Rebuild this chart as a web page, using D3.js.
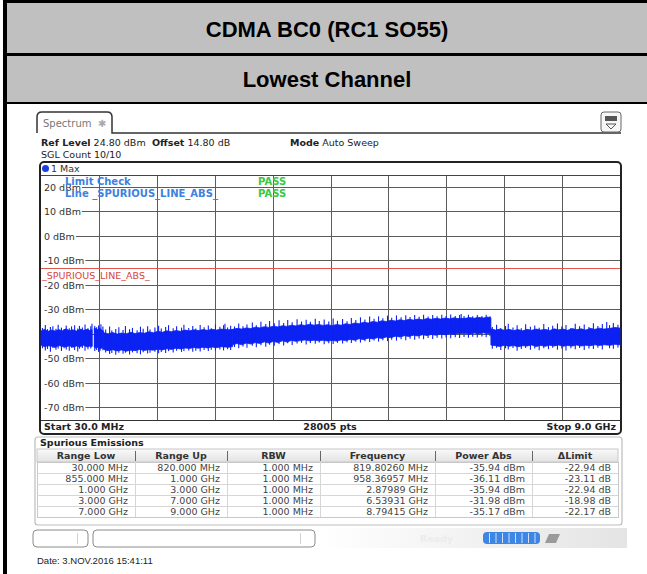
<!DOCTYPE html>
<html>
<head>
<meta charset="utf-8">
<script src="https://cdn.jsdelivr.net/npm/d3@7"></script>
<style>
  html, body { margin: 0; padding: 0; background: #fff; }
  svg { display: block; }
</style>
</head>
<body>
<svg id="chart" width="647" height="574"></svg>
<script>
// ---- report header ----
const titleLines = ["CDMA BC0 (RC1 SO55)", "Lowest Channel"];

// ---- analyzer settings ----
const refLevel = 24.80;          // dBm, top of the display
const offsetDb = 14.80;
const sweepMode = "Auto Sweep";
const sglCount = "10/10";
const startMHz = 30;
const stopMHz = 9000;
const sweepPoints = 28005;
const yTicks = [20, 10, 0, -10, -20, -30, -40, -50, -60, -70];
const limitLevel = -13;          // dBm
const limitName = "_SPURIOUS_LINE_ABS_";

// ---- spurious emissions table ----
const rangeLow  = ["30.000 MHz", "855.000 MHz", "1.000 GHz", "3.000 GHz", "7.000 GHz"];
const rangeUp   = ["820.000 MHz", "1.000 GHz", "3.000 GHz", "7.000 GHz", "9.000 GHz"];
const rbwValues = ["1.000 MHz", "1.000 MHz", "1.000 MHz", "1.000 MHz", "1.000 MHz"];
const peakFreqMHz = [819.80260, 958.36957, 2879.89, 6539.31, 8794.15];
const peakPower   = [-35.94, -36.11, -35.94, -31.98, -35.17];

// ---- max-hold trace, dense core per range: [MHz, upper dBm, lower dBm] ----
const core1 = [
  [30,-38.9,-44.6],[85,-38.2,-45.3],[140,-39.0,-44.9],[195,-38.5,-45.1],[250,-38.9,-45.6],
  [305,-38.3,-44.8],[360,-38.8,-45.2],[415,-38.0,-45.4],[470,-38.7,-44.9],[525,-38.4,-45.5],
  [580,-38.9,-45.0],[635,-38.1,-45.3],[690,-38.6,-44.7],[745,-38.2,-45.4],[790,-38.7,-45.0],
  [820,-38.3,-45.2]
];
const core2 = [
  [855,-37.6,-45.4],[880,-38.0,-45.9],[905,-38.3,-45.6],[930,-37.9,-46.2],[980,-38.6,-45.8],
  [1000,-38.9,-46.0]
];
const core3 = [
  [1000,-39.6,-46.4],[1070,-40.0,-46.9],[1140,-39.5,-46.5],[1210,-40.1,-47.0],[1280,-39.7,-46.6],
  [1350,-40.0,-47.1],[1420,-39.4,-46.7],[1490,-39.9,-46.9],[1560,-39.5,-46.4],[1630,-39.8,-46.8],
  [1700,-39.2,-46.5],[1770,-39.6,-46.7],[1840,-39.0,-46.3],[1910,-39.4,-46.6],[1980,-38.8,-46.1],
  [2050,-39.2,-46.4],[2120,-38.7,-45.9],[2190,-39.0,-46.2],[2260,-38.5,-45.8],[2330,-38.8,-46.0],
  [2400,-38.4,-45.6],[2470,-38.7,-45.9],[2540,-38.3,-45.5],[2610,-38.6,-45.8],[2680,-38.2,-45.4],
  [2750,-38.5,-45.7],[2820,-38.1,-45.3],[2940,-38.4,-45.5],[3000,-38.2,-45.2]
];
const core4 = [
  [3000,-38.2,-44.4],[3070,-37.8,-44.0],[3140,-38.1,-44.5],[3210,-37.6,-43.8],[3280,-37.9,-44.2],
  [3350,-37.3,-43.6],[3420,-37.6,-44.0],[3490,-37.1,-43.3],[3560,-37.4,-43.8],[3630,-36.9,-43.1],
  [3700,-37.2,-43.6],[3770,-36.7,-42.9],[3840,-37.0,-43.4],[3910,-36.5,-42.7],[3980,-36.8,-43.1],
  [4050,-36.3,-42.8],[4120,-36.6,-42.5],[4190,-36.1,-42.9],[4260,-36.5,-42.6],[4330,-36.2,-42.9],
  [4400,-36.6,-42.6],[4470,-36.3,-43.0],[4540,-36.7,-42.7],[4610,-36.2,-43.0],[4680,-36.5,-42.5],
  [4750,-35.9,-42.8],[4820,-36.2,-42.3],[4890,-35.6,-42.6],[4960,-35.9,-42.0],[5030,-35.3,-42.4],
  [5100,-35.6,-41.8],[5170,-35.0,-42.1],[5240,-35.3,-41.6],[5310,-34.7,-41.9],[5380,-35.0,-41.3],
  [5450,-34.5,-41.6],[5520,-34.8,-41.0],[5590,-34.3,-41.3],[5660,-34.6,-40.8],[5730,-34.1,-41.1],
  [5800,-34.4,-40.6],[5870,-34.0,-40.9],[5940,-34.3,-40.4],[6010,-33.8,-40.7],[6080,-34.1,-40.3],
  [6150,-33.7,-40.6],[6220,-34.0,-40.1],[6290,-33.6,-40.4],[6360,-33.9,-40.0],[6430,-33.5,-40.3],
  [6490,-33.8,-39.9],[6600,-33.7,-39.8],[6670,-33.4,-40.2],[6740,-33.7,-39.7],[6810,-33.3,-40.1],
  [6880,-33.6,-39.6],[6950,-33.2,-40.0],[7000,-33.5,-39.8]
];
const core5 = [
  [7000,-38.0,-44.6],[7070,-38.5,-44.9],[7140,-38.1,-45.2],[7210,-38.6,-44.7],[7280,-38.2,-45.1],
  [7350,-38.7,-44.8],[7420,-38.3,-45.3],[7490,-38.8,-44.9],[7560,-38.2,-45.0],[7630,-38.6,-44.6],
  [7700,-38.1,-45.2],[7770,-38.5,-44.8],[7840,-38.2,-45.1],[7910,-38.7,-44.7],[7980,-38.0,-45.0],
  [8050,-38.4,-44.6],[8120,-38.1,-45.1],[8190,-38.6,-44.8],[8260,-37.9,-45.0],[8330,-38.3,-44.6],
  [8400,-38.0,-45.0],[8470,-38.5,-44.7],[8540,-37.8,-44.9],[8610,-38.2,-44.5],[8680,-37.7,-44.8],
  [8750,-38.1,-44.5],[8850,-37.8,-44.7],[8920,-37.4,-44.3],[9000,-37.7,-44.5]
];

// ---- individual noise excursions beyond the core: [MHz, top dBm, bottom dBm] ----
const spikes1 = [
  [52,-37.6,-45.9],[97,-36.4,-46.8],[131,-38.1,-46.2],[176,-37.2,-47.3],[214,-36.9,-45.8],
  [262,-38.0,-46.5],[296,-36.3,-46.0],[347,-37.5,-47.0],[388,-38.2,-45.9],[421,-36.6,-46.4],
  [468,-37.8,-46.9],[503,-37.0,-45.7],[551,-36.5,-46.6],[599,-37.9,-47.2],[626,-36.8,-46.1],
  [671,-37.4,-45.8],[712,-36.2,-46.9],[758,-37.7,-46.3],[801,-36.9,-46.0]
];
const spikes2 = [[863,-36.8,-47.0],[892,-37.3,-46.6],[921,-36.6,-47.4],[944,-37.6,-46.9],[989,-37.0,-46.7]];
const spikes3 = [
  [1032,-38.3,-47.6],[1093,-37.0,-48.3],[1127,-38.7,-47.9],[1188,-38.1,-48.6],[1236,-37.3,-47.7],
  [1301,-38.5,-48.2],[1338,-36.8,-47.8],[1402,-38.2,-48.5],[1447,-37.6,-47.6],[1519,-38.6,-48.0],
  [1571,-37.1,-48.4],[1613,-38.0,-47.5],[1682,-36.9,-48.1],[1719,-38.3,-47.8],[1795,-37.4,-47.3],
  [1852,-36.7,-48.0],[1893,-37.9,-47.4],[1961,-37.2,-47.9],[2006,-36.5,-47.1],[2078,-37.8,-47.6],
  [2131,-36.9,-46.9],[2207,-37.5,-47.4],[2244,-36.3,-47.0],[2319,-37.6,-46.8],[2381,-36.8,-47.3],
  [2428,-37.9,-46.9],[2496,-36.4,-47.2],[2557,-37.3,-46.6],[2622,-36.6,-47.0],[2668,-37.7,-46.5],
  [2733,-36.2,-46.9],[2801,-37.1,-46.4],[2858,-36.5,-46.8],[2921,-37.4,-46.3],[2968,-36.7,-46.6]
];
const spikes4 = [
  [3028,-37.0,-45.4],[3093,-35.8,-45.9],[3159,-36.9,-45.2],[3221,-36.2,-45.7],[3304,-35.4,-44.9],
  [3366,-36.5,-45.5],[3437,-35.1,-44.7],[3512,-36.0,-45.3],[3571,-34.8,-44.5],[3644,-35.7,-44.9],
  [3718,-34.5,-44.2],[3789,-35.6,-44.8],[3852,-34.4,-43.9],[3921,-35.3,-44.6],[3997,-34.1,-44.0],
  [4066,-35.0,-43.7],[4138,-34.3,-44.4],[4204,-35.1,-43.8],[4279,-33.9,-44.1],[4341,-34.8,-43.6],
  [4417,-34.2,-44.3],[4488,-35.0,-43.9],[4556,-33.8,-44.2],[4623,-34.7,-43.7],[4702,-34.0,-44.0],
  [4771,-34.9,-43.5],[4838,-33.6,-43.8],[4907,-34.4,-43.3],[4979,-33.3,-43.6],[5048,-34.2,-43.1],
  [5121,-33.0,-43.4],[5190,-33.9,-42.8],[5259,-32.9,-43.2],[5326,-33.7,-42.6],[5398,-32.6,-43.0],
  [5463,-33.5,-42.4],[5537,-32.5,-42.8],[5609,-33.3,-42.2],[5681,-32.4,-42.6],[5748,-33.2,-42.0],
  [5819,-32.3,-42.4],[5888,-33.1,-41.9],[5957,-32.2,-42.2],[6027,-33.0,-41.7],[6098,-32.3,-42.1],
  [6167,-32.9,-41.6],[6239,-32.2,-41.9],[6306,-32.8,-41.5],[6377,-32.1,-41.8],[6448,-32.7,-41.4],
  [6515,-32.3,-41.7],[6584,-32.8,-41.3],[6652,-32.2,-41.6],[6718,-32.9,-41.2],[6789,-32.3,-41.5],
  [6861,-32.7,-41.1],[6927,-32.2,-41.4],[6986,-32.9,-41.0]
];
const spikes5 = [
  [7022,-37.2,-46.1],[7088,-36.3,-45.7],[7153,-37.6,-46.6],[7227,-36.8,-45.9],[7269,-35.9,-46.4],
  [7342,-37.4,-45.8],[7406,-36.5,-46.9],[7471,-37.8,-46.2],[7538,-36.1,-45.8],[7612,-37.1,-46.5],
  [7679,-36.6,-46.0],[7748,-37.5,-46.7],[7819,-36.0,-45.9],[7892,-37.3,-46.3],[7957,-36.7,-45.7],
  [8031,-35.8,-46.5],[8098,-37.0,-46.0],[8163,-36.4,-46.8],[8239,-37.6,-45.9],[8307,-35.9,-46.3],
  [8374,-36.9,-45.8],[8446,-36.2,-46.6],[8519,-37.2,-46.0],[8588,-35.7,-46.2],[8657,-36.8,-45.7],
  [8726,-36.0,-46.4],[8838,-36.5,-45.9],[8897,-35.6,-46.1],[8968,-36.3,-45.6]
];
const traceCores = [core1, core2, core3, core4, core5];
const traceSpikes = [spikes1, spikes2, spikes3, spikes4, spikes5];

// ------------------------------------------------------------------
const svg = d3.select("#chart");
const UI = "'DejaVu Sans', Verdana, sans-serif";
const TRACE = "#0b22f2";

function fmtFreq(mhz) {
  return mhz < 1000 ? mhz.toFixed(5) + " MHz" : (mhz / 1000).toFixed(5) + " GHz";
}

// ---- header band ----
svg.append("rect").attr("x", 3).attr("y", 0).attr("width", 644).attr("height", 104).attr("fill", "#000");
svg.append("rect").attr("x", 3).attr("y", 0).attr("width", 4).attr("height", 574).attr("fill", "#000");
svg.append("rect").attr("x", 7).attr("y", 3).attr("width", 640).attr("height", 50).attr("fill", "#c0c0c0");
svg.append("rect").attr("x", 7).attr("y", 56).attr("width", 640).attr("height", 46).attr("fill", "#c0c0c0");
svg.selectAll("text.title").data(titleLines).join("text")
  .attr("class", "title")
  .attr("x", 327).attr("y", (d, i) => i === 0 ? 37 : 87)
  .attr("text-anchor", "middle")
  .attr("font-family", "'Liberation Sans', Arial, sans-serif")
  .attr("font-weight", "bold").attr("font-size", 22).attr("fill", "#000")
  .text(d => d);

// ---- instrument tab ----
svg.append("path")
  .attr("d", "M37,133 V117 Q37,112 42,112 H107 Q112,112 112,117 V133 H621")
  .attr("fill", "none").attr("stroke", "#333").attr("stroke-width", 1.5);
svg.append("text").attr("x", 43).attr("y", 127)
  .attr("font-family", UI).attr("font-size", 10).attr("fill", "#777").text("Spectrum");
svg.append("text").attr("x", 98).attr("y", 127)
  .attr("font-family", UI).attr("font-size", 10).attr("fill", "#aaa").text("\u2731");

// menu icon
svg.append("rect").attr("x", 601).attr("y", 112).attr("width", 20).attr("height", 20).attr("rx", 3)
  .attr("fill", "#f6f6f6").attr("stroke", "#666").attr("stroke-width", 1);
svg.append("rect").attr("x", 605).attr("y", 116).attr("width", 12).attr("height", 5).attr("fill", "#555");
svg.append("path").attr("d", "M606,124 H616 L611,129 Z").attr("fill", "none").attr("stroke", "#555").attr("stroke-width", 1);

// settings lines
const info = svg.append("g").attr("font-family", UI).attr("font-size", 9.5).attr("fill", "#222");
function infoPair(xPos, yPos, label, value) {
  const t = info.append("text").attr("x", xPos).attr("y", yPos);
  t.append("tspan").attr("font-weight", "bold").text(label);
  t.append("tspan").text(" " + value);
}
infoPair(41, 146, "Ref Level", refLevel.toFixed(2) + " dBm");
infoPair(152, 146, "Offset", offsetDb.toFixed(2) + " dB");
infoPair(290, 146, "Mode", sweepMode);
info.append("text").attr("x", 41).attr("y", 158).text("SGL Count " + sglCount);

// ---- diagram ----
const x = d3.scaleLinear().domain([startMHz, stopMHz]).range([41, 620]);
const y = d3.scaleLinear().domain([refLevel - 100, refLevel]).range([420, 175]);

svg.append("rect").attr("x", 40).attr("y", 162).attr("width", 581).attr("height", 272).attr("rx", 4)
  .attr("fill", "#fff").attr("stroke", "#222").attr("stroke-width", 2);

svg.append("circle").attr("cx", 45.5).attr("cy", 168.5).attr("r", 3.5).attr("fill", "#1a3ee0");
svg.append("text").attr("x", 51).attr("y", 172).attr("font-family", UI).attr("font-size", 9.5)
  .attr("fill", "#333").text("1 Max");

const grid = svg.append("g").attr("stroke", "#5c5c5c").attr("stroke-width", 1);
const xGrid = d3.range(11).map(i => startMHz + i * (stopMHz - startMHz) / 10);
grid.selectAll("line.v").data(xGrid.slice(1, 10)).join("line").attr("class", "v")
  .attr("x1", d => Math.round(x(d)) + 0.5).attr("x2", d => Math.round(x(d)) + 0.5)
  .attr("y1", y(refLevel)).attr("y2", y(refLevel - 100));
grid.selectAll("line.h").data(yTicks).join("line").attr("class", "h")
  .attr("x1", x(startMHz)).attr("x2", x(stopMHz))
  .attr("y1", d => Math.round(y(d)) + 0.5).attr("y2", d => Math.round(y(d)) + 0.5);
svg.append("line").attr("x1", 41).attr("x2", 620).attr("y1", 175.5).attr("y2", 175.5)
  .attr("stroke", "#444").attr("stroke-width", 1);
svg.append("line").attr("x1", 41).attr("x2", 620).attr("y1", 420.5).attr("y2", 420.5)
  .attr("stroke", "#333").attr("stroke-width", 1.2);

// level labels with white backing
const yl = svg.append("g").attr("font-family", UI).attr("font-size", 9.5).attr("fill", "#333");
yTicks.forEach(v => {
  const g = yl.append("g");
  const bg = g.append("rect").attr("fill", "#fff");
  const t = g.append("text").attr("x", 44).attr("y", Math.round(y(v)) + 3.5).text(v + " dBm");
  const w = t.node().getComputedTextLength();
  bg.attr("x", 41).attr("y", Math.round(y(v)) - 5).attr("width", w + 4).attr("height", 11);
});

// limit line
svg.append("line").attr("x1", 41).attr("x2", 620)
  .attr("y1", Math.round(y(limitLevel)) + 0.5).attr("y2", Math.round(y(limitLevel)) + 0.5)
  .attr("stroke", "#e0574f").attr("stroke-width", 1);
svg.append("text").attr("x", 42).attr("y", Math.round(y(limitLevel)) + 11)
  .attr("font-family", UI).attr("font-size", 9.5).attr("fill", "#d9443a").text(limitName);

// trace: each range's core band, its noise needles, and its reported peak
const area = d3.area()
  .x(d => x(d[0])).y0(d => y(d[2])).y1(d => y(d[1]));
const traceG = svg.append("g");
traceCores.forEach((pts, i) => {
  traceG.append("path").datum(pts).attr("d", area)
    .attr("fill", TRACE).attr("stroke", TRACE).attr("stroke-width", 0.8);
  const near = pts.reduce((a, b) => Math.abs(b[0] - peakFreqMHz[i]) < Math.abs(a[0] - peakFreqMHz[i]) ? b : a);
  const needles = traceSpikes[i].concat([[peakFreqMHz[i], peakPower[i], near[2]]]);
  traceG.selectAll(null).data(needles).join("line")
    .attr("x1", d => x(d[0])).attr("x2", d => x(d[0]))
    .attr("y1", d => y(d[1])).attr("y2", d => y(d[2]))
    .attr("stroke", TRACE).attr("stroke-width", 1.1);
});

// limit check annotation
const lc = svg.append("g").attr("font-family", UI).attr("font-size", 10).attr("font-weight", "bold");
lc.append("text").attr("x", 65).attr("y", 185).attr("fill", "#3d82dc").text("Limit Check");
lc.append("text").attr("x", 65).attr("y", 197).attr("fill", "#3d82dc").text("Line " + limitName);
lc.append("text").attr("x", 258).attr("y", 185).attr("fill", "#3cc83c").text("PASS");
lc.append("text").attr("x", 258).attr("y", 197).attr("fill", "#3cc83c").text("PASS");

// footer of the diagram
const ft = svg.append("g").attr("font-family", UI).attr("font-size", 9.5).attr("font-weight", "bold").attr("fill", "#222");
ft.append("text").attr("x", 44).attr("y", 430).text("Start " + startMHz.toFixed(1) + " MHz");
ft.append("text").attr("x", 330).attr("y", 430).attr("text-anchor", "middle").text(sweepPoints + " pts");
ft.append("text").attr("x", 616).attr("y", 430).attr("text-anchor", "end").text("Stop " + (stopMHz / 1000).toFixed(1) + " GHz");

// ---- spurious emissions table ----
svg.append("rect").attr("x", 35).attr("y", 437).attr("width", 587).attr("height", 88).attr("rx", 3)
  .attr("fill", "#fff").attr("stroke", "#bdbdbd").attr("stroke-width", 1.2);
svg.append("text").attr("x", 40).attr("y", 446).attr("font-family", UI).attr("font-size", 9.5)
  .attr("font-weight", "bold").attr("fill", "#222").text("Spurious Emissions");

const colEdges = [37, 135, 227, 320, 435, 532, 618];
const headers = ["Range Low", "Range Up", "RBW", "Frequency", "Power Abs", "\u0394Limit"];
const hdrTop = 449, hdrH = 13, rowH = 11;
const defs = svg.append("defs");
const hg = defs.append("linearGradient").attr("id", "hdrGrad").attr("x1", 0).attr("y1", 0).attr("x2", 0).attr("y2", 1);
hg.append("stop").attr("offset", "0%").attr("stop-color", "#fafafa");
hg.append("stop").attr("offset", "100%").attr("stop-color", "#e2e2e2");
svg.append("rect").attr("x", colEdges[0]).attr("y", hdrTop).attr("width", colEdges[6] - colEdges[0]).attr("height", hdrH)
  .attr("fill", "url(#hdrGrad)").attr("stroke", "#c8c8c8");
headers.forEach((h, i) => {
  svg.append("text").attr("x", (colEdges[i] + colEdges[i + 1]) / 2).attr("y", hdrTop + 10)
    .attr("text-anchor", "middle").attr("font-family", UI).attr("font-size", 9.5)
    .attr("font-weight", "bold").attr("fill", "#333").text(h);
  if (i > 0) svg.append("line").attr("x1", colEdges[i] + 0.5).attr("x2", colEdges[i] + 0.5)
    .attr("y1", hdrTop + 2).attr("y2", hdrTop + hdrH - 1).attr("stroke", "#666");
});

const rows = rangeLow.map((d, i) => [
  d, rangeUp[i], rbwValues[i], fmtFreq(peakFreqMHz[i]),
  peakPower[i].toFixed(2) + " dBm", (peakPower[i] - limitLevel).toFixed(2) + " dB"
]);
const bodyTop = hdrTop + hdrH;
svg.append("rect").attr("x", colEdges[0] + 0.5).attr("y", bodyTop + 0.5)
  .attr("width", colEdges[6] - colEdges[0]).attr("height", rowH * rows.length)
  .attr("fill", "#fff").attr("stroke", "#c8c8c8");
rows.forEach((r, ri) => {
  const ry = bodyTop + ri * rowH;
  if (ri > 0) svg.append("line").attr("x1", colEdges[0]).attr("x2", colEdges[6])
    .attr("y1", ry + 0.5).attr("y2", ry + 0.5).attr("stroke", "#d6d6d6");
  r.forEach((c, ci) => {
    svg.append("text").attr("x", colEdges[ci + 1] - 7).attr("y", ry + 9)
      .attr("text-anchor", "end").attr("font-family", UI).attr("font-size", 9.5)
      .attr("fill", "#444").text(c);
  });
});
colEdges.slice(1, 6).forEach(cx => {
  svg.append("line").attr("x1", cx + 0.5).attr("x2", cx + 0.5).attr("y1", bodyTop)
    .attr("y2", bodyTop + rowH * rows.length).attr("stroke", "#d6d6d6");
});

// ---- status bar ----
svg.append("rect").attr("x", 33).attr("y", 530).attr("width", 55).attr("height", 17).attr("rx", 4)
  .attr("fill", "#fff").attr("stroke", "#8a8a8a");
svg.append("line").attr("x1", 77.5).attr("x2", 77.5).attr("y1", 533).attr("y2", 544).attr("stroke", "#d0d0d0");
svg.append("rect").attr("x", 93).attr("y", 530).attr("width", 222).attr("height", 17).attr("rx", 4)
  .attr("fill", "#fff").attr("stroke", "#8a8a8a");
svg.append("line").attr("x1", 300.5).attr("x2", 300.5).attr("y1", 533).attr("y2", 544).attr("stroke", "#d0d0d0");
const sg = defs.append("linearGradient").attr("id", "statGrad").attr("x1", 0).attr("y1", 0).attr("x2", 1).attr("y2", 0);
sg.append("stop").attr("offset", "0%").attr("stop-color", "#ffffff");
sg.append("stop").attr("offset", "100%").attr("stop-color", "#e4e4e4");
svg.append("rect").attr("x", 320).attr("y", 528).attr("width", 307).attr("height", 20).attr("fill", "url(#statGrad)");
svg.append("text").attr("x", 420).attr("y", 542).attr("font-family", UI).attr("font-size", 9.5)
  .attr("font-weight", "bold").attr("fill", "#ececec").text("Ready");
svg.append("rect").attr("x", 483).attr("y", 532).attr("width", 57).attr("height", 12).attr("rx", 4).attr("fill", "#3d86e4");
d3.range(8).forEach(i => {
  svg.append("line").attr("x1", 489.5 + i * 6.5).attr("x2", 489.5 + i * 6.5).attr("y1", 533).attr("y2", 543)
    .attr("stroke", "#cfe0f8").attr("stroke-width", 1);
});
svg.append("path").attr("d", "M545,543 L549,534 H560 L556,543 Z").attr("fill", "#9a9a9a");

// ---- date stamp ----
svg.append("text").attr("x", 37).attr("y", 564)
  .attr("font-family", "'Liberation Sans', Arial, sans-serif").attr("font-size", 9.5)
  .attr("fill", "#222").text("Date: 3.NOV.2016  15:41:11");
</script>
</body>
</html>
